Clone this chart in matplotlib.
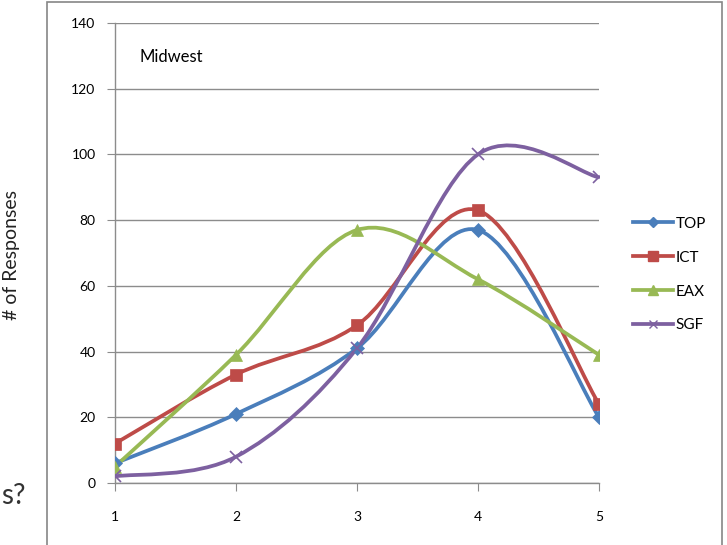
import matplotlib
matplotlib.use("Agg")
import matplotlib.pyplot as plt
from matplotlib.path import Path
from matplotlib.patches import PathPatch, Rectangle
import numpy as np

plt.rcParams['font.family'] = ['Lato', 'DejaVu Sans']

# Data
x_vals = [1, 2, 3, 4, 5]
top = [6, 21, 41, 77, 20]
ict = [12, 33, 48, 83, 24]
eax = [5, 39, 77, 62, 39]
sgf = [2, 8, 41, 100, 93]
series_names = ["TOP", "ICT", "EAX", "SGF"]
y_ticks = [0, 20, 40, 60, 80, 100, 120, 140]

colors = ["#4A7EBB", "#BE4B48", "#98B954", "#7D60A0"]
markers = ["D", "s", "^", "x"]
msizes = [7, 9, 9, 8]


def smooth_path(xs, ys):
    # Excel-style smoothed line: cubic Bezier segments through the points
    pts = np.column_stack([xs, ys]).astype(float)
    n = len(pts)
    verts = [pts[0]]
    codes = [Path.MOVETO]
    for i in range(n - 1):
        p0 = pts[max(i - 1, 0)]
        p1 = pts[i]
        p2 = pts[i + 1]
        p3 = pts[min(i + 2, n - 1)]
        c1 = p1 + (p2 - p0) / 6.0
        c2 = p2 - (p3 - p1) / 6.0
        verts += [c1, c2, p2]
        codes += [Path.CURVE4] * 3
    return Path(verts, codes)


fig = plt.figure(figsize=(7.27, 5.45), dpi=100)
ax = fig.add_axes([0.1582, 0.1138, 0.8239 - 0.1582, 0.9578 - 0.1138])

# outer chart border
fig.patches.append(Rectangle((47 / 727, -0.01), (722 - 47) / 727, 1 - 2 / 545 + 0.01,
                             transform=fig.transFigure, fill=False,
                             edgecolor="#868686", linewidth=1.2))

for data, name, c, m, ms in zip([top, ict, eax, sgf], series_names, colors, markers, msizes):
    ax.add_patch(PathPatch(smooth_path(x_vals, data), facecolor="none",
                           edgecolor=c, linewidth=2.7, zorder=3))
    ax.plot(x_vals, data, linestyle="none", marker=m, color=c, markersize=ms,
            markeredgewidth=1.2 if m == "x" else 0.5, zorder=4)
    ax.plot([], [], color=c, marker=m, markersize=ms, linewidth=2.7, label=name)

ax.set_xlim(1, 5)
ax.set_ylim(0, 140)
ax.set_xticks(x_vals)
ax.set_yticks(y_ticks)
ax.yaxis.grid(True, color="#8c8c8c", linewidth=1.0)
ax.set_axisbelow(True)
for s in ["top", "right"]:
    ax.spines[s].set_visible(False)
for s in ["left", "bottom"]:
    ax.spines[s].set_color("#8c8c8c")
    ax.spines[s].set_linewidth(1.0)
ax.tick_params(axis="both", colors="#8c8c8c", length=6, labelsize=10,
               labelcolor="black", direction="out")
ax.tick_params(axis="y", pad=8)
ax.tick_params(axis="x", pad=14)

ax.text(0.05, 0.925, "Midwest", transform=ax.transAxes, fontsize=12, va="center")

fig.text(12 / 727, 1 - 255 / 545, "# of Responses", rotation=90, fontsize=14,
         va="center", ha="center", color="#222222")
fig.text(1 / 727, 1 - 496 / 545, "s?", fontsize=20, va="center", ha="left", color="#333333")

ax.legend(loc="center left", bbox_to_anchor=(1.07, 0.453), frameon=False,
          fontsize=11, handlelength=2.6, labelspacing=1.3, handletextpad=0.2,
          borderaxespad=0, borderpad=0, markerscale=0.8)

fig.savefig("out.png", dpi=100)
